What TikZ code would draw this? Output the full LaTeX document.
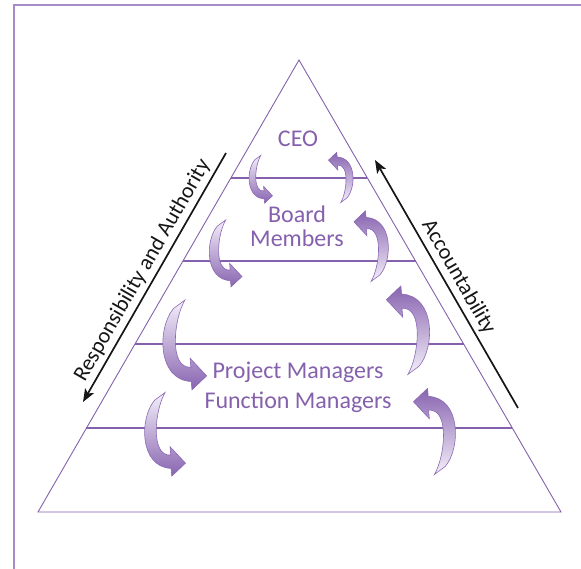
\documentclass[tikz,border=0pt]{standalone}
\usepackage{fontspec}
\setmainfont{Carlito}
\usetikzlibrary{arrows.meta,calc}

\definecolor{tier}{RGB}{133,96,172}
\definecolor{lightlav}{RGB}{244,240,250}
\definecolor{darklav}{RGB}{136,100,176}
\definecolor{arrowedge}{RGB}{140,105,180}
\definecolor{framecol}{RGB}{165,140,200}
\definecolor{ink}{RGB}{22,22,22}

\tikzset{
  levelline/.style={tier, line width=1.7pt},
  outline/.style={tier, line width=0.9pt, line join=miter},
  leveltext/.style={text=tier, font=\fontsize{24}{26}\selectfont, inner sep=0pt, anchor=base},
  sidetext/.style={text=ink, font=\fontsize{22}{24}\selectfont, inner sep=0pt},
  flowarrow/.style={ink, line width=1.7pt, -{Stealth[length=13pt,width=10pt,inset=3pt]}},
  % curved ribbon arrow: tail at top, bulging left, head pointing right
  pics/bendarrow/.style 2 args={code={
    \path[draw=arrowedge, line width=0.6pt, top color=#1, bottom color=#2, line join=miter]
      (-0.81,0.71) .. controls (-1.25,0.2) and (-1.25,-1.2) .. (-0.34,-1.24)
      -- (-0.32,-1.46) -- (0.07,-1.09) -- (-0.37,-0.62) -- (-0.35,-0.86)
      .. controls (-0.95,-0.9) and (-0.8,0.45) .. (-0.51,0.93) -- cycle;
  }},
}

\begin{document}
\begin{tikzpicture}[x=1pt,y=-1pt]
  \useasboundingbox (0,0) rectangle (581,569);

  % page frame
  \draw[framecol, line width=1.2pt] (14,569) -- (14,5) -- (581,5);

  % pyramid
  \coordinate (apex) at (299,60);
  \coordinate (bl) at (38,512);
  \coordinate (br) at (561,512);
  \draw[outline] (apex) -- (bl) -- (br) -- cycle;

  % level separators
  \foreach \t/\n in {0.2611/a,0.4447/b,0.6283/c,0.8142/d}{
    \coordinate (l\n) at ($(apex)!\t!(bl)$);
    \coordinate (r\n) at ($(apex)!\t!(br)$);
    \draw[levelline] (l\n) -- (r\n);
  }

  % level labels
  \node[leveltext] (ceo) at (298,147) {CEO};
  \node[leveltext] (board) at (297,223) {Board};
  \node[leveltext] (members) at (297,247) {Members};
  \node[leveltext] (pm) at (298,378) {Project Managers};
  \node[leveltext] (fm) at (298,408) {Function Managers};

  % downward ribbons (left side)
  \pic[scale=20, yscale=-1] at (271,174) {bendarrow={lightlav}{darklav}};
  \pic[scale=28, yscale=-1] at (240,246) {bendarrow={lightlav}{darklav}};
  \pic[scale=37.5, yscale=-1] at (204,335) {bendarrow={lightlav}{darklav}};
  \pic[scale=35, yscale=-1] at (183,425) {bendarrow={lightlav}{darklav}};

  % upward ribbons (right side)
  \pic[scale=21, yscale=-1, rotate=180] at (330,183) {bendarrow={darklav}{lightlav}};
  \pic[scale=29.5, yscale=-1, rotate=180] at (356,254) {bendarrow={darklav}{lightlav}};
  \pic[scale=37, yscale=-1, rotate=180] at (389,340) {bendarrow={darklav}{lightlav}};
  \pic[scale=36, yscale=-1, rotate=180] at (416,441) {bendarrow={darklav}{lightlav}};

  % side arrows
  \coordinate (rtop) at (226,153);
  \coordinate (rbot) at (83,402);
  \draw[flowarrow] (rtop) -- (rbot)
    node[sidetext, midway, sloped, anchor=base, yshift=8pt] (resp) {Responsibility and Authority};

  \coordinate (abot) at (518,408);
  \coordinate (atop) at (375,160);
  \draw[flowarrow] (abot) -- (atop)
    node[sidetext, midway, sloped, anchor=base, yshift=8pt] (acc) {Accountability};
\end{tikzpicture}
\end{document}
